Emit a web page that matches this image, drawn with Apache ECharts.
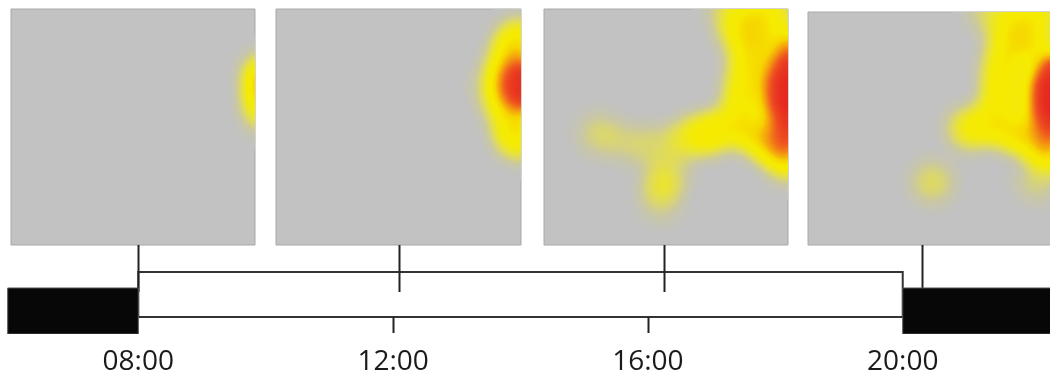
<!DOCTYPE html>
<html><head><meta charset="utf-8">
<script src="https://cdn.jsdelivr.net/npm/echarts@6/dist/echarts.min.js"></script>
<style>html,body{margin:0;padding:0;background:#fff}#c{width:1050px;height:379px}</style>
</head><body><div id="c"></div>
<script>
// ---------- data ----------
const tickHours = [8, 12, 16, 20];
const tickLabels = ['08:00', '12:00', '16:00', '20:00'];
const underTicks = [12, 16];
const dayPeriod = [8, 20];
const nightPeriods = [[5.95, 8], [20, 24]];
const snapshotTimes = [8.0, 12.1, 16.25, 20.3];

// heat spots per snapshot: [x (0-100, left->right), y (0-100, bottom->top), intensity 0-100]
const panel1 = [[104, 72, 66], [104, 64, 56], [104, 57, 40]];
const panel2 = [[101, 72, 95], [101, 63, 95], [98, 68, 70],
                [94, 76, 45], [94, 58, 45], [97, 84, 45], [97, 48, 45], [100, 88, 35], [100, 44, 32],
                [90, 67, 35]];
const panel3 = [[101, 76, 95], [101, 68, 100], [101, 60, 100], [101, 52, 90], [96, 70, 75], [96, 60, 75],
                [101, 84, 70], [101, 46, 70],
                [86, 98, 42], [94, 98, 42], [80, 90, 45], [88, 86, 52], [84, 76, 55], [82, 64, 55],
                [80, 52, 50], [70, 48, 50], [62, 46, 35], [88, 46, 58], [96, 42, 58], [100, 36, 48],
                [76, 100, 26],
                [23, 47, 22], [35, 43, 16], [45, 42, 16], [55, 44, 18],
                [48, 27, 22], [48, 19, 18], [52, 31, 15]];
const panel4 = [[101, 76, 95], [101, 68, 100], [101, 60, 100], [101, 52, 90], [97, 68, 75], [97, 58, 75],
                [86, 98, 42], [95, 98, 42], [82, 88, 48], [91, 86, 52], [80, 76, 55], [79, 64, 55],
                [76, 52, 50], [66, 50, 45], [86, 48, 58], [96, 44, 58], [100, 40, 48], [75, 100, 26],
                [51, 27, 26], [94, 28, 20]];

// ---------- chart ----------
echarts.registerMap('arena', {
  type: 'FeatureCollection',
  features: [{type: 'Feature', properties: {name: 'arena'},
    geometry: {type: 'Polygon', coordinates: [[[0, 0], [100, 0], [100, 100], [0, 100], [0, 0]]]}}]
});

const panelBoxes = [
  {left: 11, top: 9, width: 244, height: 236},
  {left: 276, top: 9, width: 245, height: 236},
  {left: 544, top: 9, width: 244, height: 236},
  {left: 808, top: 12, width: 244, height: 233}
];
const panels = [panel1, panel2, panel3, panel4];

const geos = panelBoxes.map(b => ({
  map: 'arena', roam: false, silent: true,
  left: b.left, top: b.top, width: b.width, height: b.height,
  aspectScale: b.width / b.height,
  boundingCoords: [[0, 100], [100, 0]],
  itemStyle: {areaColor: '#c2c2c2', borderColor: '#a8a8a8', borderWidth: 1},
  emphasis: {disabled: true}, select: {disabled: true},
  label: {show: false}
}));

const heatSeries = panels.map((d, i) => ({
  type: 'heatmap', coordinateSystem: 'geo', geoIndex: i, data: d,
  pointSize: 20, blurSize: 20, minOpacity: 1, maxOpacity: 1, silent: true
}));

const LINE = '#333333';
const timelineSeries = [
  { // daytime bar
    type: 'custom', xAxisIndex: 0, yAxisIndex: 0, clip: true, silent: true,
    data: [dayPeriod],
    renderItem(params, api) {
      const cs = params.coordSys;
      const x1 = api.coord([api.value(0), 0])[0];
      const x2 = api.coord([api.value(1), 0])[0];
      return {type: 'rect', shape: {x: x1, y: cs.y + 27, width: x2 - x1, height: 45},
        style: {fill: '#ffffff', stroke: LINE, lineWidth: 2}};
    }
  },
  { // connectors from snapshots
    type: 'custom', xAxisIndex: 0, yAxisIndex: 0, clip: true, silent: true,
    data: snapshotTimes.map(t => [t]),
    renderItem(params, api) {
      const cs = params.coordSys;
      const x = Math.round(api.coord([api.value(0), 0])[0]) + 0.5;
      return {type: 'line', shape: {x1: x, y1: cs.y, x2: x, y2: cs.y + 47},
        style: {stroke: '#222', lineWidth: 2}};
    }
  },
  { // night bars
    type: 'custom', xAxisIndex: 0, yAxisIndex: 0, clip: true, silent: true,
    data: nightPeriods,
    renderItem(params, api) {
      const cs = params.coordSys;
      const x1 = api.coord([api.value(0), 0])[0];
      const x2 = api.coord([api.value(1), 0])[0];
      return {type: 'rect', shape: {x: x1, y: cs.y + 43, width: x2 - x1, height: 46},
        style: {fill: '#070707', stroke: '#555', lineWidth: 1}};
    }
  },
  { // hour ticks under the day bar
    type: 'custom', xAxisIndex: 0, yAxisIndex: 0, clip: true, silent: true,
    data: underTicks.map(t => [t]),
    renderItem(params, api) {
      const cs = params.coordSys;
      const x = Math.round(api.coord([api.value(0), 0])[0]) + 0.5;
      return {type: 'line', shape: {x1: x, y1: cs.y + 72, x2: x, y2: cs.y + 88},
        style: {stroke: '#222', lineWidth: 2}};
    }
  }
];

const chart = echarts.init(document.getElementById('c'), null, {renderer: 'canvas'});
chart.setOption({
  animation: false,
  backgroundColor: '#ffffff',
  geo: geos,
  grid: [{left: 0, right: 0, top: 245, bottom: 45}],
  xAxis: [{
    type: 'value', min: 5.829, max: 22.312,
    axisLine: {show: false}, axisTick: {show: false}, splitLine: {show: false},
    axisLabel: {
      customValues: tickHours,
      formatter: v => tickLabels[tickHours.indexOf(v)],
      fontSize: 28, fontFamily: 'Open Sans', color: '#1a1a1a', margin: 14
    }
  }],
  yAxis: [{type: 'value', min: 0, max: 1, show: false}],
  visualMap: {
    type: 'continuous', show: false, min: 0, max: 100, seriesIndex: [0, 1, 2, 3],
    inRange: {color: ['#c2c2c2', '#cac8a0', '#dcd868', '#eae430', '#f3ea08', '#f6ea00',
                      '#f6d400', '#f49a10', '#ee5020', '#e42020']}
  },
  series: heatSeries.concat(timelineSeries)
});
</script></body></html>
